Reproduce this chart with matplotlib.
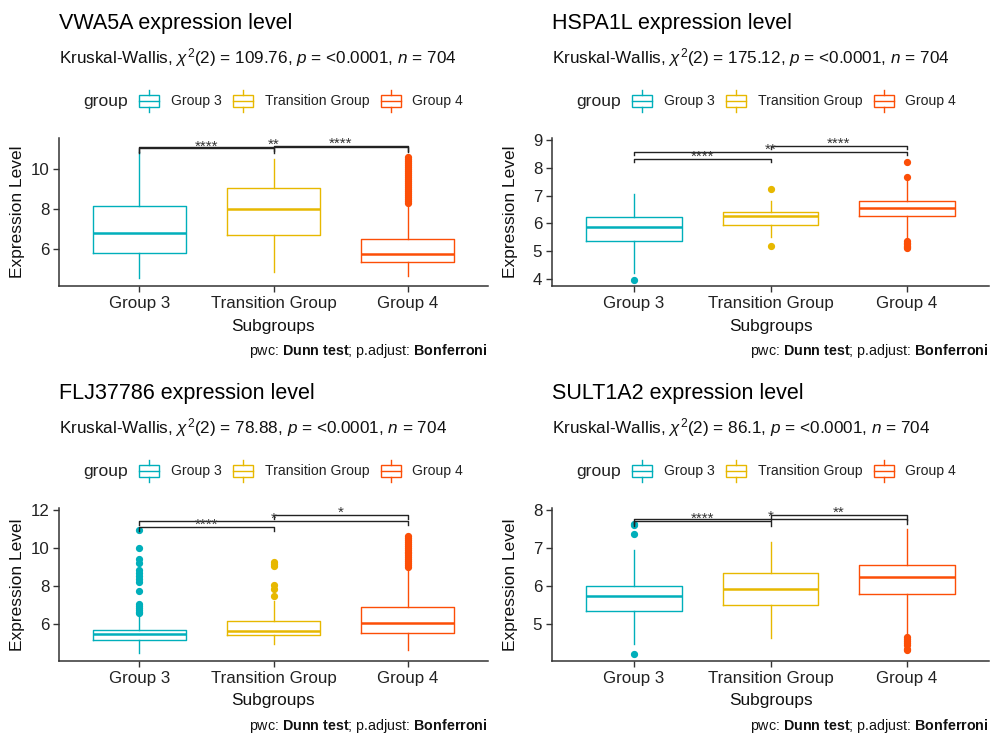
import matplotlib
matplotlib.use("Agg")
import matplotlib.pyplot as plt
from matplotlib.patches import Rectangle
from matplotlib.lines import Line2D
import matplotlib.transforms as mtransforms

plt.rcParams['font.family'] = ['Liberation Sans', 'DejaVu Sans']
plt.rcParams['mathtext.fontset'] = 'custom'
plt.rcParams['mathtext.rm'] = 'Liberation Sans'
plt.rcParams['mathtext.it'] = 'Liberation Sans:italic'
plt.rcParams['mathtext.bf'] = 'Liberation Sans:bold'

# ---------------- data ----------------
groups = ["Group 3", "Transition Group", "Group 4"]
colors = ["#00AFBB", "#E7B800", "#FC4E07"]

genes = ["VWA5A", "HSPA1L", "FLJ37786", "SULT1A2"]
chi2 = ["109.76", "175.12", "78.88", "86.1"]

# VWA5A
vwa5a_whislo = [4.55, 4.85, 4.65]
vwa5a_q1 = [5.8, 6.7, 5.37]
vwa5a_med = [6.8, 8.0, 5.77]
vwa5a_q3 = [8.15, 9.05, 6.5]
vwa5a_whishi = [10.85, 10.5, 8.2]
vwa5a_fliers = [[], [], [8.3, 8.4, 8.5, 8.6, 8.7, 8.8, 8.9, 9.0, 9.1, 9.2, 9.3, 9.4, 9.5,
                          9.6, 9.7, 9.8, 9.9, 10.0, 10.1, 10.2, 10.3, 10.4, 10.5, 10.6]]
vwa5a_brackets = [11.03, 11.1, 11.17]
vwa5a_labels = ["****", "**", "****"]

# HSPA1L
hspa1l_whislo = [4.2, 5.5, 5.45]
hspa1l_q1 = [5.38, 5.93, 6.25]
hspa1l_med = [5.88, 6.26, 6.55]
hspa1l_q3 = [6.24, 6.4, 6.8]
hspa1l_whishi = [7.05, 6.82, 7.56]
hspa1l_fliers = [[3.97], [7.24, 5.2], [8.22, 7.67, 5.35, 5.3, 5.25, 5.2, 5.15, 5.1]]
hspa1l_brackets = [8.33, 8.58, 8.8]
hspa1l_labels = ["****", "**", "****"]

# FLJ37786
flj_whislo = [4.48, 4.92, 4.62]
flj_q1 = [5.15, 5.42, 5.54]
flj_med = [5.45, 5.63, 6.04]
flj_q3 = [5.68, 6.16, 6.89]
flj_whishi = [6.5, 7.22, 8.95]
flj_fliers = [[6.57, 6.65, 6.75, 6.85, 6.95, 7.05, 7.74, 8.2, 8.35, 8.5, 8.65, 8.82,
               9.2, 9.39, 10.0, 10.94],
              [7.45, 7.85, 8.05, 9.05, 9.15, 9.25],
              [9.0, 9.1, 9.2, 9.3, 9.4, 9.5, 9.6, 9.7, 9.8, 9.9, 10.0, 10.1, 10.2,
               10.3, 10.4, 10.5, 10.6]]
flj_brackets = [11.11, 11.43, 11.73]
flj_labels = ["****", "*", "*"]

# SULT1A2
sult_whislo = [4.46, 4.63, 4.7]
sult_q1 = [5.34, 5.49, 5.8]
sult_med = [5.73, 5.91, 6.25]
sult_q3 = [6.0, 6.35, 6.56]
sult_whishi = [6.95, 7.15, 7.5]
sult_fliers = [[4.2, 7.38, 7.6, 7.63], [], [4.3, 4.35, 4.45, 4.5, 4.55, 4.6, 4.65]]
sult_brackets = [7.71, 7.78, 7.87]
sult_labels = ["****", "*", "**"]

panels = [
    dict(whislo=vwa5a_whislo, q1=vwa5a_q1, med=vwa5a_med, q3=vwa5a_q3, whishi=vwa5a_whishi,
         fliers=vwa5a_fliers, br=vwa5a_brackets, lab=vwa5a_labels, ylim=(4.15, 11.55),
         yticks=[6, 8, 10], tip=0.25),
    dict(whislo=hspa1l_whislo, q1=hspa1l_q1, med=hspa1l_med, q3=hspa1l_q3, whishi=hspa1l_whishi,
         fliers=hspa1l_fliers, br=hspa1l_brackets, lab=hspa1l_labels, ylim=(3.75, 9.07),
         yticks=[4, 5, 6, 7, 8, 9], tip=0.13),
    dict(whislo=flj_whislo, q1=flj_q1, med=flj_med, q3=flj_q3, whishi=flj_whishi,
         fliers=flj_fliers, br=flj_brackets, lab=flj_labels, ylim=(4.05, 12.09),
         yticks=[6, 8, 10, 12], tip=0.21),
    dict(whislo=sult_whislo, q1=sult_q1, med=sult_med, q3=sult_q3, whishi=sult_whishi,
         fliers=sult_fliers, br=sult_brackets, lab=sult_labels, ylim=(4.02, 8.06),
         yticks=[5, 6, 7, 8], tip=0.13),
]
pairs = [(0, 1), (0, 2), (1, 2)]

# ---------------- layout (pixels) ----------------
W, H = 992, 735
fig = plt.figure(figsize=(W / 100, H / 100), dpi=100)

# axes boxes: left, right, top, bottom (pixels)
boxes = [(59, 488, 138, 286), (552, 989, 138, 286),
         (59, 488, 508, 661), (552, 989, 508, 661)]

ov = fig.add_axes([0, 0, 1, 1], zorder=-1)
ov.set_xlim(0, W)
ov.set_ylim(H, 0)
ov.axis("off")

axis_col = "#333333"

for i, (p, (l, r, t, b)) in enumerate(zip(panels, boxes)):
    ax = fig.add_axes([l / W, 1 - b / H, (r - l) / W, (b - t) / H])
    stats = []
    for k in range(3):
        stats.append(dict(med=p["med"][k], q1=p["q1"][k], q3=p["q3"][k],
                          whislo=p["whislo"][k], whishi=p["whishi"][k],
                          fliers=p["fliers"][k]))
    for k in range(3):
        c = colors[k]
        ax.bxp([stats[k]], positions=[k], widths=0.7, showcaps=False, showfliers=True,
               boxprops=dict(color=c, linewidth=1.0),
               whiskerprops=dict(color=c, linewidth=1.0),
               medianprops=dict(color=c, linewidth=1.8),
               flierprops=dict(marker="o", markerfacecolor=c, markeredgecolor=c,
                               markersize=4.2, linestyle="none"),
               manage_ticks=False)
    ax.set_xlim(-0.6, 2.6)
    ax.set_ylim(*p["ylim"])
    ax.set_yticks(p["yticks"])
    ax.set_xticks([0, 1, 2])
    ax.set_xticklabels(groups)
    for s in ["top", "right"]:
        ax.spines[s].set_visible(False)
    for s in ["left", "bottom"]:
        ax.spines[s].set_color(axis_col)
        ax.spines[s].set_linewidth(1.1)
    ax.tick_params(axis="both", length=4, width=1.0, color=axis_col,
                   labelsize=12.2, labelcolor="#222222", pad=3)

    # significance brackets
    tr = mtransforms.offset_copy(ax.transData, fig=fig, x=0, y=2, units="dots")
    for (a, bb), yb, lab in zip(pairs, p["br"], p["lab"]):
        ax.plot([a, a, bb, bb], [yb - p["tip"], yb, yb, yb - p["tip"]],
                color="#222222", linewidth=1.0, clip_on=False, zorder=5)
        ax.text((a + bb) / 2, yb, lab, ha="center", va="center", fontsize=11,
                color="#333333", transform=tr, zorder=6)

    # titles
    ov.text(l, t - 115, f"{genes[i]} expression level", fontsize=15.5, ha="left",
            va="center", color="black")
    ov.text(l, t - 80, r"Kruskal-Wallis, $\chi^2$(2) = " + chi2[i] +
            r", $p$ = <0.0001, $n$ = 704", fontsize=12.3, ha="left", va="center",
            color="#111111")

    # legend
    ly = t - 37
    lx = l + 24
    ov.text(lx, ly, "group", fontsize=12.6, ha="left", va="center", color="#222222")
    key_off = [56, 150, 298]
    lab_off = [88, 182, 329]
    for k in range(3):
        kx = lx + key_off[k]
        c = colors[k]
        ov.add_patch(Rectangle((kx, ly - 6), 20, 12, fill=False, edgecolor=c, linewidth=1.0))
        ov.add_line(Line2D([kx, kx + 20], [ly, ly], color=c, linewidth=1.0))
        ov.add_line(Line2D([kx + 10, kx + 10], [ly - 11, ly - 6], color=c, linewidth=1.0))
        ov.add_line(Line2D([kx + 10, kx + 10], [ly + 6, ly + 11], color=c, linewidth=1.0))
        ov.text(lx + lab_off[k], ly, groups[k], fontsize=10.1, ha="left", va="center",
                color="#222222")

    # axis titles
    xc = l + (r - l) * (1 + 0.6) / 3.2
    ov.text(xc, b + 40, "Subgroups", fontsize=12.4, ha="center", va="center", color="#111111")
    ov.text(l - 41, (t + b) / 2, "Expression Level", fontsize=12.5,
            rotation=90, ha="center", va="center", color="#111111")
    # caption
    ov.text(r, b + 65, r"pwc: $\mathbf{Dunn\ test}$; p.adjust: $\mathbf{Bonferroni}$",
            fontsize=10.3, ha="right", va="center", color="#111111")

fig.savefig("out.png", dpi=100, facecolor="white")
